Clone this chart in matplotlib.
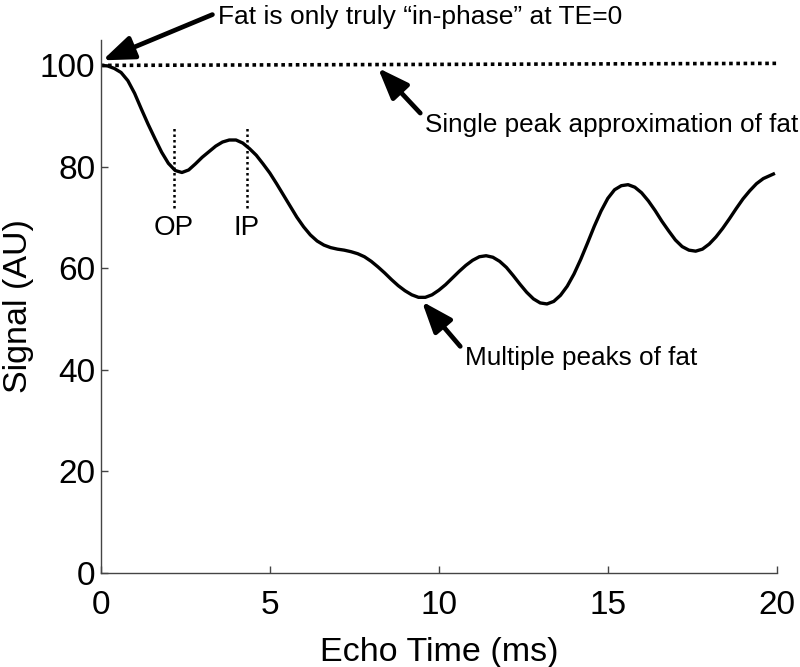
import matplotlib
matplotlib.use("Agg")
import matplotlib.pyplot as plt

plt.rcParams['font.family'] = ['Liberation Sans', 'DejaVu Sans']

# multi-peak fat signal
te = [0.0, 0.2, 0.4, 0.6, 0.8, 1.0, 1.2, 1.4, 1.6, 1.8, 2.0, 2.2, 2.4, 2.6, 2.8,
      3.0, 3.2, 3.4, 3.6, 3.8, 4.0, 4.2, 4.4, 4.6, 4.8, 5.0, 5.2, 5.4, 5.6, 5.8,
      6.0, 6.2, 6.4, 6.6, 6.8, 7.0, 7.2, 7.4, 7.6, 7.8, 8.0, 8.2, 8.4, 8.6, 8.8,
      9.0, 9.2, 9.4, 9.6, 9.8, 10.0, 10.2, 10.4, 10.6, 10.8, 11.0, 11.2, 11.4, 11.6, 11.8,
      12.0, 12.2, 12.4, 12.6, 12.8, 13.0, 13.2, 13.4, 13.6, 13.8, 14.0, 14.2, 14.4, 14.6, 14.8,
      15.0, 15.2, 15.4, 15.6, 15.8, 16.0, 16.2, 16.4, 16.6, 16.8, 17.0, 17.2, 17.4, 17.6, 17.8,
      18.0, 18.2, 18.4, 18.6, 18.8, 19.0, 19.2, 19.4, 19.6, 19.9]
signal = [100.0, 99.9, 99.4, 98.6, 97.0, 94.5, 91.4, 88.4, 85.6, 82.9, 80.7, 79.3, 78.9, 79.4, 80.6,
          81.9, 83.0, 84.1, 84.9, 85.3, 85.3, 84.7, 83.6, 82.3, 80.6, 78.8, 76.7, 74.5, 72.3, 70.1,
          68.2, 66.6, 65.4, 64.6, 64.1, 63.8, 63.6, 63.3, 62.9, 62.3, 61.4, 60.3, 59.1, 57.8, 56.6,
          55.6, 54.8, 54.3, 54.3, 54.8, 55.7, 56.8, 58.1, 59.4, 60.6, 61.6, 62.3, 62.5, 62.2, 61.4,
          60.2, 58.6, 56.9, 55.3, 54.0, 53.2, 53.0, 53.5, 54.7, 56.5, 58.9, 61.8, 65.0, 68.3, 71.3,
          73.8, 75.5, 76.3, 76.5, 76.0, 74.9, 73.3, 71.4, 69.3, 67.4, 65.6, 64.3, 63.6, 63.4, 63.8,
          64.8, 66.2, 67.9, 69.8, 71.8, 73.7, 75.3, 76.7, 77.7, 78.6]

# single peak approximation
te_single = [0.0, 20.0]
signal_single = [100.0, 100.4]

# opposed / in phase echo times
phase_te = [2.16, 4.32]
phase_labels = ['OP', 'IP']
phase_top = 88
phase_bottom = 72

fig = plt.figure(figsize=(8, 6.67), dpi=100)
ax = fig.add_axes([0.126, 0.141, 0.845, 0.799])

ax.plot(te, signal, color='black', lw=2.4, solid_joinstyle='round')
ax.plot(te_single, signal_single, color='black', lw=2.6, linestyle=(0, (1, 1)))

for t, lab in zip(phase_te, phase_labels):
    ax.plot([t, t], [phase_bottom, phase_top], color='black', lw=1.8, linestyle=(0, (1, 1.2)))
    ax.text(t, phase_bottom - 1.5, lab, ha='center', va='top', fontsize=20)

arrow = dict(arrowstyle='-|>,head_length=1.0,head_width=0.38', color='black', lw=3.4,
             shrinkA=2, shrinkB=0)

ax.annotate('Fat is only truly \u201cin-phase\u201d at TE=0', xy=(0.05, 101), xytext=(3.46, 109.5),
            fontsize=19, ha='left', va='center', annotation_clip=False,
            arrowprops=dict(arrow, relpos=(0, 0.7)))
ax.annotate('Single peak approximation of fat', xy=(8.2, 99.5), xytext=(9.59, 88.2),
            fontsize=18.8, ha='left', va='center', annotation_clip=False,
            arrowprops=dict(arrow, relpos=(0, 0.8)))
ax.annotate('Multiple peaks of fat', xy=(9.5, 53.5), xytext=(10.77, 42.4),
            fontsize=18.8, ha='left', va='center', annotation_clip=False,
            arrowprops=dict(arrow, relpos=(0, 0.75)))

ax.set_xlim(0, 20)
ax.set_ylim(0, 105)
ax.set_xticks([0, 5, 10, 15, 20])
ax.set_yticks([0, 20, 40, 60, 80, 100])
ax.spines['top'].set_visible(False)
ax.spines['right'].set_visible(False)
for s in ['left', 'bottom']:
    ax.spines[s].set_color('#444444')
    ax.spines[s].set_linewidth(1.0)
ax.tick_params(direction='in', length=5, width=1, color='#444444', labelsize=24)
ax.tick_params(axis='x', pad=12)
ax.tick_params(axis='y', pad=4)

ax.set_xlabel('Echo Time (ms)', fontsize=24.5, labelpad=12)
ax.set_ylabel('Signal (AU)', fontsize=24.5, labelpad=4)

fig.savefig('out.png', dpi=100)
